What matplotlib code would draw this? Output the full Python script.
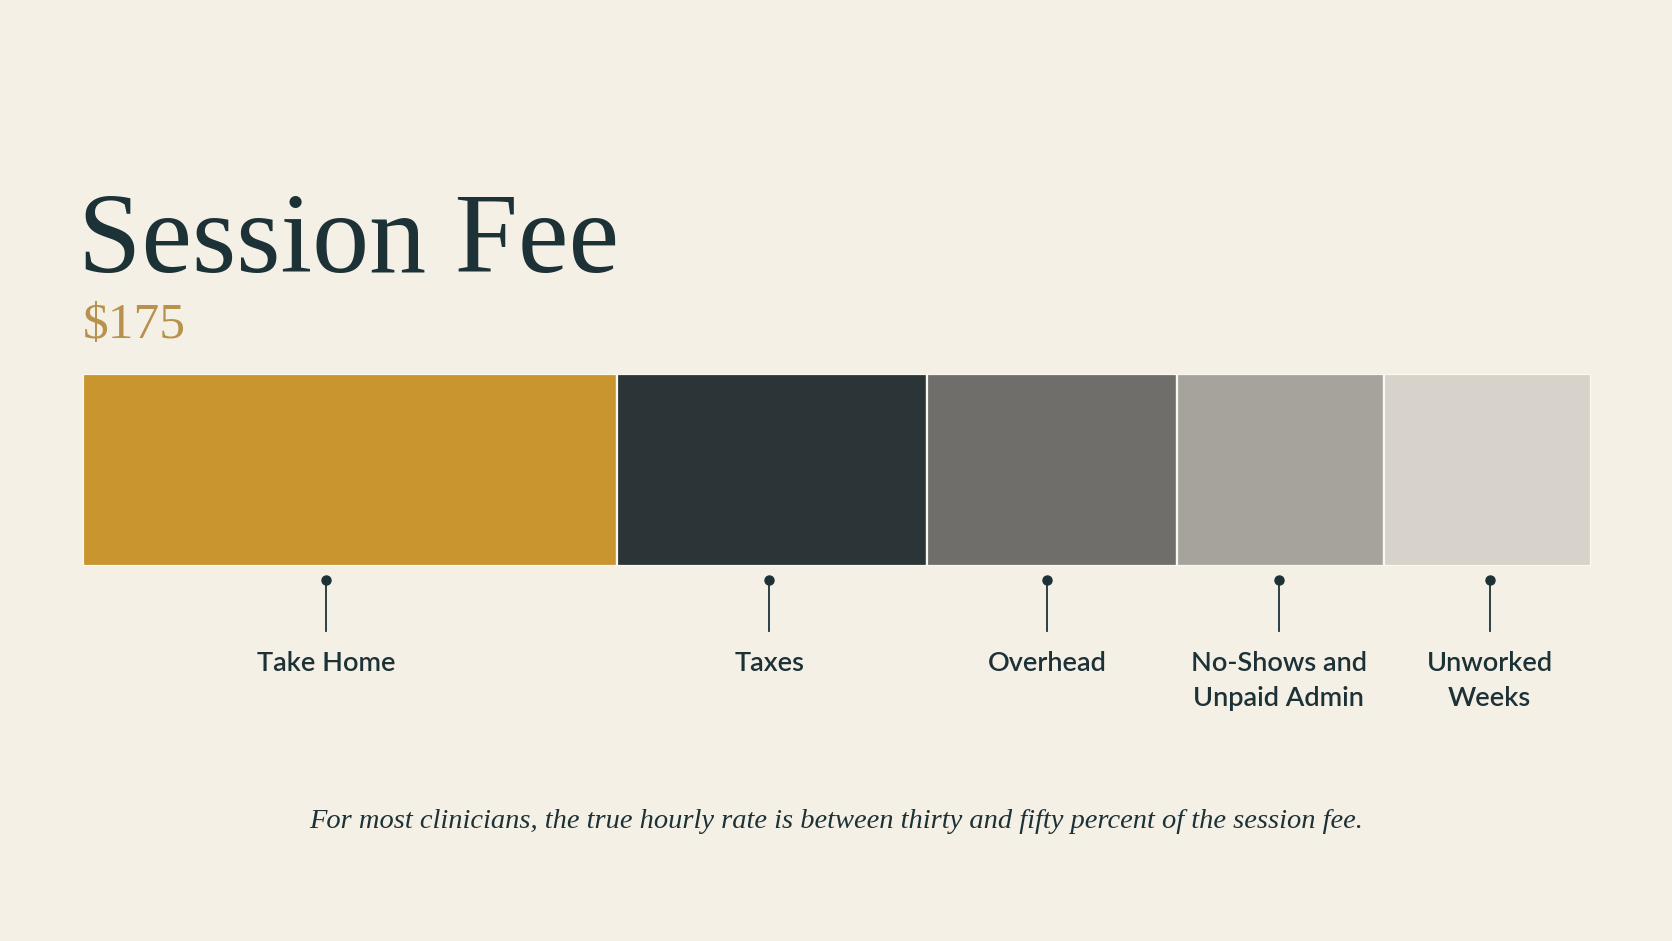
import matplotlib.pyplot as plt

# session fee split, dollars
categories = ['Take Home', 'Taxes', 'Overhead', 'No-Shows and\nUnpaid Admin', 'Unworked\nWeeks']
amounts = [62, 36, 29, 24, 24]
session_fee = 175
colors = ['#c8952f', '#2b3437', '#6f6e6b', '#a6a39c', '#d7d3ca']

title = 'Session Fee'
fee_label = '$175'
caption = 'For most clinicians, the true hourly rate is between thirty and fifty percent of the session fee.'

BG = '#f5f0e6'
INK = '#1c3236'
GOLD = '#b8924c'

# where the pin sits inside each segment (0 = left edge, 1 = right edge)
pin_frac = [0.455, 0.49, 0.48, 0.49, 0.51]

W, H = 1672, 941
fig = plt.figure(figsize=(W / 100, H / 100), dpi=100, facecolor=BG)

# bar axes, placed in pixel terms
bx0, bx1, by0, by1 = 83, 1591, 374, 566
ax = fig.add_axes([bx0 / W, 1 - by1 / H, (bx1 - bx0) / W, (by1 - by0) / H])
ax.set_xlim(0, session_fee)
ax.set_ylim(0, 1)
ax.axis('off')

lefts = []
acc = 0
for a in amounts:
    lefts.append(acc)
    acc += a

ax.barh([0.5], amounts, left=lefts, height=1.0, color=colors,
        edgecolor='#fbf8f1', linewidth=1.6)

px = 1 / (by1 - by0)  # one pixel in axes-y units
for cat, left, a, f in zip(categories, lefts, amounts, pin_frac):
    cx = left + a * f
    ax.plot([cx, cx], [-14 * px, -65 * px], color=INK, lw=1.3, clip_on=False)
    ax.plot([cx], [-14 * px], 'o', ms=6.5, color=INK, clip_on=False)
    ax.text(cx, -85 * px, cat, ha='center', va='top', fontsize=19.5,
            family='Lato', weight='semibold', color=INK, linespacing=1.5,
            clip_on=False)

fig.text(bx0 / W - 0.003, 1 - 272 / H, title, family='Liberation Serif',
         fontsize=82, color=INK, va='baseline', ha='left')
fig.text(bx0 / W, 1 - 338 / H, fee_label, family='Liberation Serif',
         fontsize=37, color=GOLD, va='baseline', ha='left')
fig.text(0.5, 1 - 822 / H, caption, family='Liberation Serif', style='italic',
         fontsize=20.5, color=INK, ha='center', va='center')

fig.savefig('out.png', dpi=100, facecolor=BG)
